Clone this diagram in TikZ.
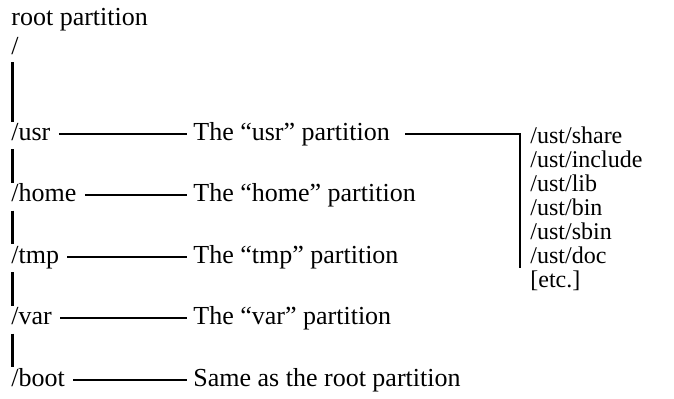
\documentclass[tikz,border=0pt]{standalone}
\usepackage{fontspec}
\setmainfont{Liberation Serif}
\usetikzlibrary{calc}

\tikzset{
  dirname/.style={anchor=base west, inner sep=0pt, text height=8pt, text depth=1.5pt},
  trunk/.style={line width=1.3pt},
  branch/.style={line width=1pt, shorten <=4pt, shorten >=3pt},
}

\begin{document}
\begin{tikzpicture}[x=0.5pt, y=-0.5pt, font=\fontsize{13pt}{11pt}\selectfont]
  \useasboundingbox (0,0) rectangle (674,398);

  \node[dirname] at (11,25)(root){root partition};
  \node[dirname] at (11,54)(rootslash){/};
  \node[dirname] at (11,140)(usr){/usr};
  \node[dirname] at (11,201.5)(home){/home};
  \node[dirname] at (11,263)(tmp){/tmp};
  \node[dirname] at (11,324.5)(var){/var};
  \node[dirname] at (11,386)(boot){/boot};

  \node[dirname] at (193,140)(usrpart){The ``usr'' partition};
  \node[dirname] at (193,201.5)(homepart){The ``home'' partition};
  \node[dirname] at (193,263)(tmppart){The ``tmp'' partition};
  \node[dirname] at (193,324.5)(varpart){The ``var'' partition};
  \node[dirname] at (193,386)(bootpart){Same as the root partition};

  \node[anchor=north west, inner sep=0pt, align=left, font=\fontsize{12pt}{12pt}\selectfont]
    at (530,126)(usrlist){%
    /ust/share\\/ust/include\\/ust/lib\\/ust/bin\\/ust/sbin\\/ust/doc\\{[etc.]}};
  \coordinate (listend) at (520,268);

  \draw[trunk] ($(rootslash.base west)+(1.5,8)$) -- ($(usr.base west)+(1.5,-18)$);
  \draw[trunk] ($(usr.base west)+(1.5,9)$) -- ($(home.base west)+(1.5,-19)$);
  \draw[trunk] ($(home.base west)+(1.5,9)$) -- ($(tmp.base west)+(1.5,-19)$);
  \draw[trunk] ($(tmp.base west)+(1.5,9)$) -- ($(var.base west)+(1.5,-19)$);
  \draw[trunk] ($(var.base west)+(1.5,9)$) -- ($(boot.base west)+(1.5,-19)$);

  \draw[branch] (usr)--(usrpart);
  \draw[branch] (home)--(homepart);
  \draw[branch] (tmp)--(tmppart);
  \draw[branch] (var)--(varpart);
  \draw[branch] (boot)--(bootpart);
  \draw[line width=1pt, shorten <=7.5pt] (usrpart) -| (listend);

\end{tikzpicture}
\end{document}
